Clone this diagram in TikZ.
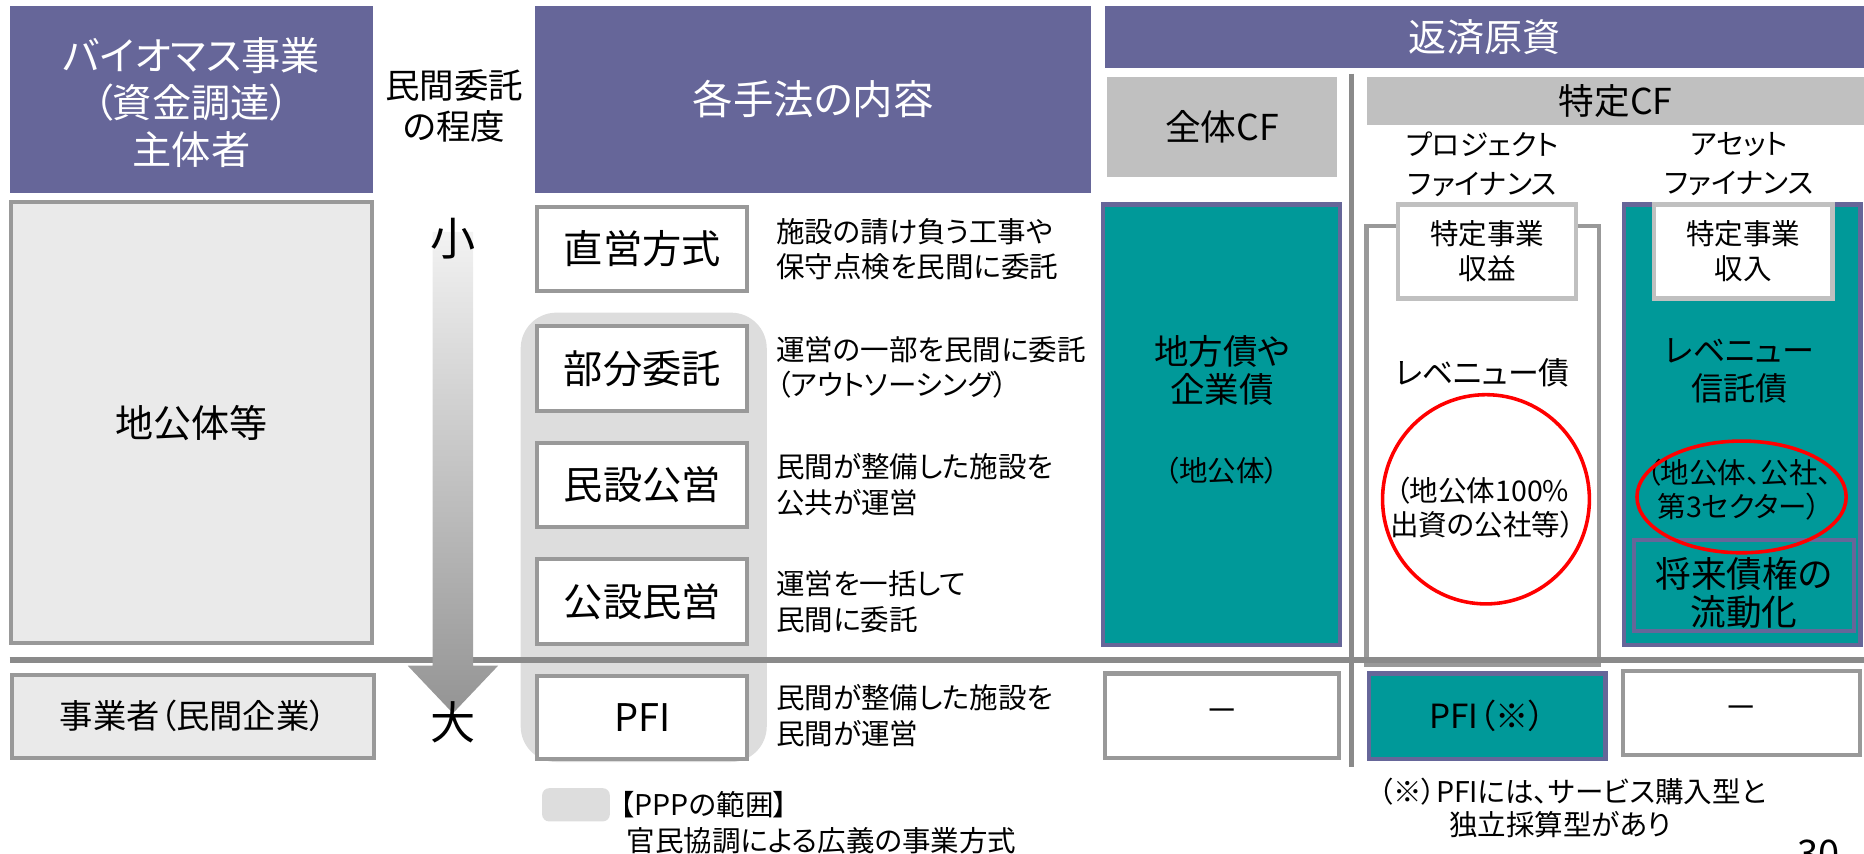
\documentclass[tikz,border=0pt]{standalone}
\usepackage{fontspec}
\setmainfont{Noto Sans CJK JP}[RawFeature=+palt]
\usetikzlibrary{shapes.geometric}
\definecolor{hdr}{RGB}{102,102,153}
\definecolor{tealc}{RGB}{0,153,153}
\definecolor{bord}{RGB}{153,153,153}
\definecolor{lfill}{RGB}{234,234,234}
\definecolor{pppc}{RGB}{221,221,221}
\definecolor{silv}{RGB}{192,192,192}
\definecolor{linec}{RGB}{138,138,138}
\newcommand\setfs[2]{\fontsize{#1}{#2}\selectfont}
\begin{document}
\begin{tikzpicture}[x=0.5pt,y=-0.5pt,
  every node/.style={inner sep=0pt, outer sep=0pt},
  rect/.style n args={4}{minimum width={(#3-#1)*0.5pt}, minimum height={(#4-#2)*0.5pt}, at={({(#1+#3)/2},{(#2+#4)/2})}},
  hdrbox/.style={fill=hdr, text=white},
  gbox/.style={draw=bord, line width=1.8pt, fill=white},
  lbox/.style={draw=bord, line width=1.8pt, fill=lfill},
  tbox/.style={draw=hdr, line width=1.8pt, fill=tealc},
  sbox/.style={draw=silv, line width=1.8pt, fill=white},
  oval/.style={ellipse, draw=red, line width=1.5pt},
  desc/.style={anchor=west, align=left, font=\setfs{12}{15}},
  meth/.style={gbox, font=\setfs{16.5}{20}}
]
\useasboundingbox (0,0) rectangle (1568,718);
\clip (0,0) rectangle (1568,718);

% headers
\node[hdrbox, rect={8}{5}{314}{162}] (hL) {};
\node[align=center, text=white, font=\setfs{16.5}{19.75}] (hLt) at (161,86.5) {バイオマス事業\\（資金調達）\\主体者};
\node[align=center, font=\setfs{14.5}{17}] (deg) at (382,89) {民間委託\\の程度};
\node[hdrbox, rect={450}{5}{918}{162}, font=\setfs{17}{20}] (hM) {各手法の内容};
\node[hdrbox, rect={929.5}{5}{1568}{57}, font=\setfs{16}{20}] (hR) {返済原資};
\node[fill=silv, rect={931}{65}{1125}{149}, font=\setfs{15}{18}] (all) {全体CF};
\node[fill=silv, rect={1150}{65}{1568}{105}, font=\setfs{15}{18}] (spec) {特定CF};
\node[align=center, font=\setfs{12}{16.5}] (pf) at (1247,138) {プロジェクト\\ファイナンス};
\node[align=center, font=\setfs{12}{16.5}] (af) at (1463,138) {アセット\\ファイナンス};

% PPP range
\node[fill=pppc, rounded corners=15pt, rect={438}{263}{645}{641}] (ppp) {};

% left column
\node[lbox, rect={9}{170}{313}{541}, font=\setfs{16}{20}] (loc) {地公体等};
\node[lbox, rect={10}{567.5}{314.5}{637.5}, font=\setfs{14}{17}] (biz) {事業者（民間企業）};

% methods
\node[meth, rect={452}{174}{628.5}{244.5}] (m1) {直営方式};
\node[meth, rect={452}{274}{628.5}{345.5}] (m2) {部分委託};
\node[meth, rect={452}{372.5}{628.5}{443.5}] (m3) {民設公営};
\node[meth, rect={452}{470.5}{628.5}{541.5}] (m4) {公設民営};
\node[meth, rect={452}{568.5}{628.5}{638.5}, font=\setfs{16}{20}] (m5) {PFI};

\node[desc] (d1) at (653,209.5) {施設の請け負う工事や\\保守点検を民間に委託};
\node[desc] (d2) at (653,309) {運営の一部を民間に委託\\（アウトソーシング）};
\node[desc] (d3) at (653,407.5) {民間が整備した施設を\\公共が運営};
\node[desc] (d4) at (653,506) {運営を一括して\\民間に委託};
\node[desc] (d5) at (653,602) {民間が整備した施設を\\民間が運営};

% general CF
\node[tbox, rect={928}{172}{1127}{542.5}] (c1) {};
\node[align=center, font=\setfs{14.5}{16}] (c1a) at (1028,312) {地方債や\\企業債};
\node[font=\setfs{12}{15}] (c1b) at (1028,396) {（地公体）};

% project finance
\node[gbox, rect={1149.5}{190}{1345}{559}] (c2) {};
\node[sbox, rect={1176}{172}{1326}{251}, align=center, font=\setfs{12}{14.75}] (c2h) {特定事業\\収益};
\node[font=\setfs{13}{16}] (c2a) at (1247,314) {レベニュー債};
\node[align=center, font=\setfs{12}{14}] (c2b) at (1247,427) {（地公体100\%\\出資の公社等）};
\node[oval, minimum width=87pt, minimum height=88pt] (ov1) at (1250,420) {};

% asset finance
\node[tbox, rect={1366}{172}{1565}{542.5}] (c3) {};
\node[sbox, rect={1391.5}{172}{1541.5}{251}, align=center, font=\setfs{12}{14.75}] (c3h) {特定事業\\収入};
\node[align=center, font=\setfs{13.5}{16}] (c3a) at (1463,312) {レベニュー\\信託債};
\node[align=center, font=\setfs{12}{14.5}] (c3b) at (1463,412) {（地公体、公社、\\第3セクター）};
\node[tbox, rect={1374.5}{454}{1559.5}{531}] (c3c) {};
\node[align=center, font=\setfs{15}{16}] (c3d) at (1467,499) {将来債権の\\流動化};
\node[oval, minimum width=88pt, minimum height=47pt] (ov2) at (1465,418) {};

% bottom row results
\node[gbox, rect={929.5}{566.5}{1126.5}{637.5}, font=\setfs{14}{17}] (r1) {－};
\node[tbox, rect={1151.5}{566.5}{1350.5}{638.5}, font=\setfs{14}{17}] (r2) {PFI（※）};
\node[gbox, rect={1365.5}{564.5}{1564.5}{635}, font=\setfs{14}{17}] (r3) {－};

% separator lines
\coordinate (hl1) at (8,555);
\coordinate (hl2) at (1568,555);
\draw[linec, line width=2.5pt] (hl1) -- (hl2);
\coordinate (vl1) at (1137,62);
\coordinate (vl2) at (1137,645);
\draw[linec, line width=2pt] (vl1) -- (vl2);

% degree arrow
\shade[top color=black!5, bottom color=black!42]
  (364,195) -- (398,195) -- (398,560) -- (419,560) -- (381,600) -- (343,560) -- (364,560) -- cycle;
\node[font=\setfs{19}{20}] (small) at (381,201) {小};
\node[font=\setfs{19}{20}] (large) at (381,608) {大};

% legend
\node[fill=pppc, rounded corners=3pt, rect={456}{663}{513}{691}] (lg) {};
\node[anchor=west, font=\setfs{12}{14}] (lgt1) at (522,677) {【PPPの範囲】};
\node[anchor=west, font=\setfs{12}{14}] (lgt2) at (527,707) {官民協調による広義の事業方式};

% note
\node[anchor=west, font=\setfs{12}{14}] (n1) at (1160,666) {（※）PFIには、サービス購入型と};
\node[anchor=west, font=\setfs{12}{14}] (n2) at (1219,694) {独立採算型があり};

\node[anchor=base, font=\setfs{16}{18}] (pg) at (1530,730) {30};
\end{tikzpicture}
\end{document}
